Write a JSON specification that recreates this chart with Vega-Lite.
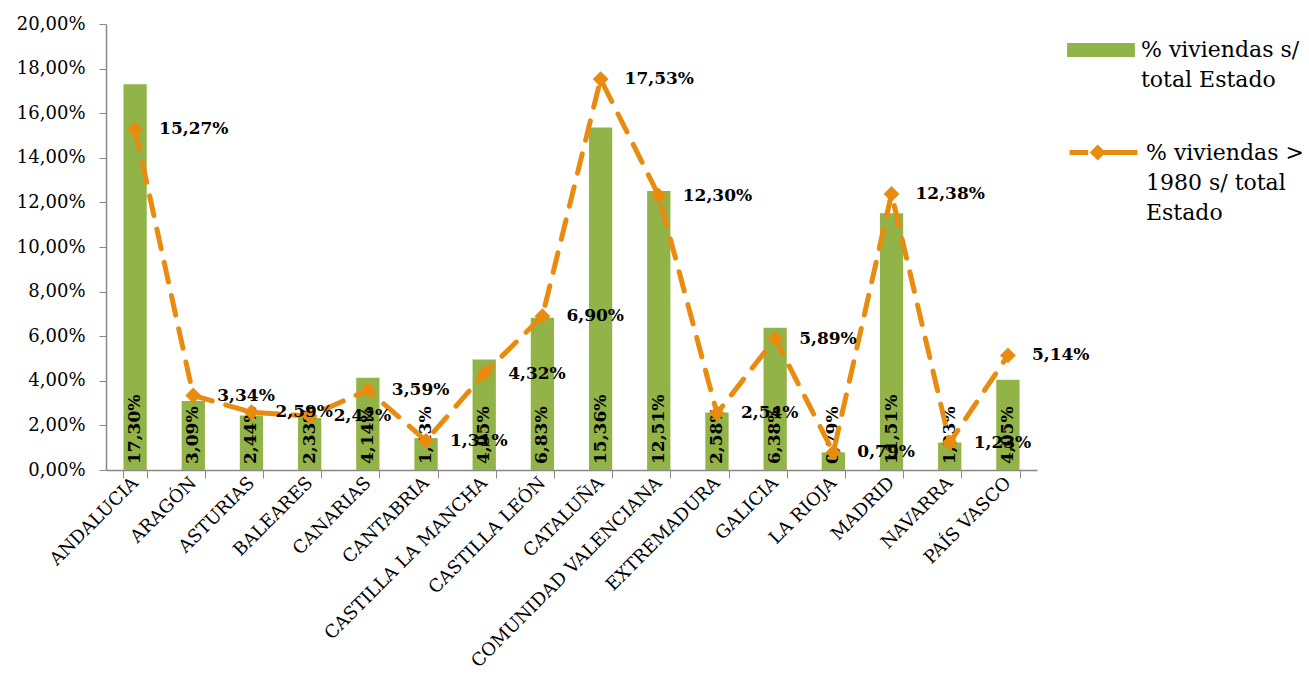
{
  "$schema": "https://vega.github.io/schema/vega-lite/v6.json",
  "width": 931,
  "height": 446,
  "autosize": {"type": "none"},
  "padding": {"left": 106, "top": 24, "right": 272, "bottom": 221},
  "background": "white",
  "config": {
    "locale": {"number": {"decimal": ",", "thousands": ".", "grouping": [3], "currency": ["", " €"]}},
    "view": {"stroke": null},
    "font": "DejaVu Serif",
    "style": {"guide-label": {"lineHeight": 30}}
  },
  "data": {
    "values": [
      {"region": "ANDALUCIA", "total": 0.1730, "post1980": 0.1527},
      {"region": "ARAGÓN", "total": 0.0309, "post1980": 0.0334},
      {"region": "ASTURIAS", "total": 0.0244, "post1980": 0.0259},
      {"region": "BALEARES", "total": 0.0233, "post1980": 0.0242},
      {"region": "CANARIAS", "total": 0.0414, "post1980": 0.0359},
      {"region": "CANTABRIA", "total": 0.0143, "post1980": 0.0131},
      {"region": "CASTILLA LA MANCHA", "total": 0.0495, "post1980": 0.0432},
      {"region": "CASTILLA LEÓN", "total": 0.0683, "post1980": 0.0690},
      {"region": "CATALUÑA", "total": 0.1536, "post1980": 0.1753},
      {"region": "COMUNIDAD VALENCIANA", "total": 0.1251, "post1980": 0.1230},
      {"region": "EXTREMADURA", "total": 0.0258, "post1980": 0.0254},
      {"region": "GALICIA", "total": 0.0638, "post1980": 0.0589},
      {"region": "LA RIOJA", "total": 0.0079, "post1980": 0.0079},
      {"region": "MADRID", "total": 0.1151, "post1980": 0.1238},
      {"region": "NAVARRA", "total": 0.0123, "post1980": 0.0123},
      {"region": "PAÍS VASCO", "total": 0.0405, "post1980": 0.0514}
    ]
  },
  "encoding": {
    "x": {
      "field": "region",
      "type": "nominal",
      "sort": null,
      "title": null,
      "scale": {"paddingInner": 0.6, "paddingOuter": 0.3},
      "axis": {
        "tickBand": "extent",
        "labelAngle": -45,
        "labelAlign": "right",
        "labelBaseline": "middle",
        "labelFont": "DejaVu Serif",
        "labelFontSize": 18,
        "labelColor": "#000000",
        "labelPadding": 2,
        "labelOverlap": false,
        "domainColor": "#888888",
        "domainWidth": 1.5,
        "tickColor": "#888888",
        "tickSize": 8,
        "labelLimit": 400
      }
    }
  },
  "layer": [
    {
      "mark": {"type": "bar"},
      "encoding": {
        "y": {
          "field": "total",
          "type": "quantitative",
          "title": null,
          "scale": {"domain": [0, 0.2]},
          "axis": {
            "format": ".2%",
            "values": [0, 0.02, 0.04, 0.06, 0.08, 0.1, 0.12, 0.14, 0.16, 0.18, 0.2],
            "labelOverlap": false,
            "grid": false,
            "labelFont": "DejaVu Serif",
            "labelFontSize": 18,
            "labelColor": "#000000",
            "labelPadding": 14,
            "domainColor": "#888888",
            "domainWidth": 1.5,
            "tickColor": "#888888",
            "tickSize": 7
          }
        },
        "fill": {
          "datum": "% viviendas s/ total Estado",
          "type": "nominal",
          "scale": {"range": ["#92B347"]},
          "legend": {
            "title": null,
            "orient": "none",
            "legendX": 961,
            "legendY": -8,
            "symbolType": "M-1,-0.21H1V0.21H-1Z",
            "symbolSize": 4600,
            "symbolStrokeWidth": 0,
            "labelFont": "DejaVu Serif",
            "labelFontSize": 22,
            "labelColor": "#000000",
            "labelLimit": 300,
            "labelOffset": 6,
            "labelExpr": "['% viviendas s/', 'total Estado']"
          }
        }
      }
    },
    {
      "mark": {"type": "text", "angle": 270, "align": "left", "baseline": "middle", "dx": 6, "fontWeight": "bold", "fontSize": 17, "font": "DejaVu Serif", "color": "#000000"},
      "encoding": {
        "y": {"datum": 0, "type": "quantitative"},
        "text": {"field": "total", "type": "quantitative", "format": ".2%"}
      }
    },
    {
      "mark": {"type": "line", "color": "#E98B0E", "strokeWidth": 5, "strokeDash": [20, 14], "strokeCap": "round"},
      "encoding": {
        "y": {"field": "post1980", "type": "quantitative"},
        "stroke": {
          "datum": "% viviendas > 1980 s/ total Estado",
          "type": "nominal",
          "scale": {"range": ["#E98B0E"]},
          "legend": {
            "title": null,
            "orient": "none",
            "legendX": 961,
            "legendY": 92,
            "symbolType": "M-1,0H-0.45M-0.05,0H1M-0.3,0L-0.17,-0.13L-0.04,0L-0.17,0.13Z",
            "symbolSize": 4600,
            "symbolStrokeWidth": 5,
            "symbolFillColor": "#E98B0E",
            "labelFont": "DejaVu Serif",
            "labelFontSize": 22,
            "labelColor": "#000000",
            "labelLimit": 300,
            "labelOffset": 6,
            "labelExpr": "['% viviendas >', '1980 s/ total', 'Estado']"
          }
        }
      }
    },
    {
      "mark": {"type": "point", "shape": "diamond", "filled": true, "size": 250, "color": "#E98B0E", "opacity": 1},
      "encoding": {
        "y": {"field": "post1980", "type": "quantitative"}
      }
    },
    {
      "mark": {"type": "text", "align": "left", "baseline": "middle", "dx": 24, "fontWeight": "bold", "fontSize": 17, "font": "DejaVu Serif", "color": "#000000"},
      "encoding": {
        "y": {"field": "post1980", "type": "quantitative"},
        "text": {"field": "post1980", "type": "quantitative", "format": ".2%"}
      }
    }
  ]
}
